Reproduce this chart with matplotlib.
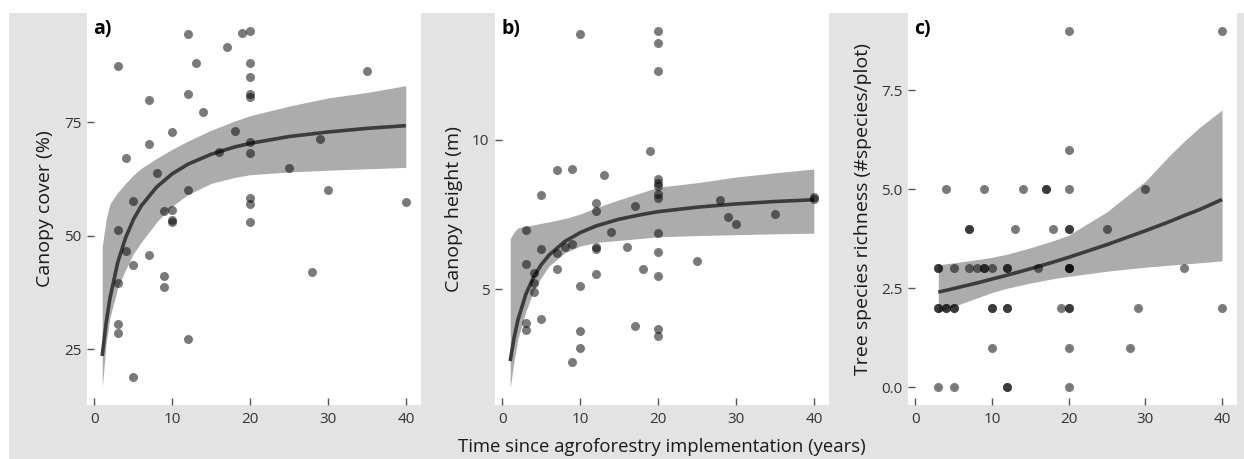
import matplotlib
matplotlib.use("Agg")
import matplotlib.pyplot as plt
from matplotlib.patches import Rectangle

plt.rcParams['font.family'] = ['Open Sans', 'DejaVu Sans']

# a) canopy cover (%)
cover_x = [3, 12, 19, 20, 17, 13, 20, 20, 35, 7, 12, 20, 20, 14, 10, 18, 7, 20, 29, 4,
           16, 20, 25, 8, 12, 30, 5, 20, 20, 40, 9, 10, 10, 10, 20, 3, 4, 7, 5, 9,
           28, 9, 3, 3, 3, 12, 5]
cover_y = [87.4, 94.4, 94.6, 95.0, 91.6, 88.1, 87.9, 84.9, 86.3, 79.8, 81.2, 81.2, 80.4, 77.1, 72.9,
           73.0, 70.2, 70.5, 71.3, 67.0, 68.5, 68.1, 64.9, 63.8, 60.0, 60.0, 57.7, 58.3, 56.9, 57.5,
           55.4, 55.7, 53.4, 52.9, 52.9, 51.2, 46.6, 45.7, 43.6, 41.1, 41.9, 38.6, 39.5, 30.6, 28.6,
           27.3, 18.9]
cover_fit_x = [1, 1.5, 2, 3, 4, 5, 6, 8, 10, 12, 15, 18, 20, 25, 30, 35, 40]
cover_fit = [23.5, 30.7, 36.2, 44.1, 49.5, 53.5, 56.5, 60.7, 63.6, 65.7, 67.9, 69.5, 70.3, 71.8, 72.8, 73.6, 74.2]
cover_lo = [16.5, 26.0, 32.0, 38.5, 42.5, 46.0, 48.5, 53.0, 56.5, 59.0, 61.5, 62.8, 63.4, 64.0, 64.4, 64.7, 65.0]
cover_hi = [47.5, 53.5, 57.0, 59.5, 61.5, 63.3, 64.8, 67.0, 69.0, 70.8, 73.2, 75.2, 76.4, 78.5, 80.3, 81.5, 83.0]

# b) canopy height (m)
height_x = [10, 20, 20, 20, 19, 7, 9, 13, 20, 20, 20, 20, 20, 5, 12, 12, 17, 28, 40, 40,
            29, 30, 35, 3, 14, 20, 5, 7, 8, 9, 12, 12, 16, 20, 25, 3, 7, 18, 4, 12,
            20, 4, 4, 10, 5, 3, 3, 17, 20, 20, 10, 10, 9]
height_y = [13.55, 13.65, 13.24, 12.32, 9.64, 9.0, 9.02, 8.83, 8.7, 8.57, 8.45, 8.2, 8.05, 8.16, 7.9,
            7.63, 7.8, 7.99, 8.1, 8.03, 7.41, 7.19, 7.52, 6.99, 6.93, 6.88, 6.34, 6.23, 6.41, 6.52,
            6.41, 6.34, 6.43, 6.24, 5.95, 5.84, 5.67, 5.67, 5.54, 5.52, 5.45, 5.22, 4.91, 5.12, 4.0,
            3.88, 3.64, 3.76, 3.69, 3.44, 3.6, 3.05, 2.58]
height_fit_x = [1, 1.5, 2, 3, 4, 5, 6, 8, 10, 12, 15, 18, 20, 25, 30, 35, 40]
height_fit = [2.6, 3.38, 3.98, 4.83, 5.41, 5.83, 6.15, 6.6, 6.9, 7.12, 7.35, 7.51, 7.6, 7.75, 7.86, 7.94, 8.0]
height_lo = [1.7, 2.6, 3.35, 4.25, 4.95, 5.4, 5.78, 6.22, 6.45, 6.57, 6.64, 6.71, 6.76, 6.8, 6.83, 6.86, 6.88]
height_hi = [6.7, 6.92, 7.06, 7.11, 7.16, 7.21, 7.26, 7.37, 7.52, 7.73, 8.0, 8.25, 8.42, 8.57, 8.76, 8.9, 9.03]

# c) tree species richness
rich_x = [20, 40, 20,
          4, 9, 14, 17, 17, 20, 30,
          7, 7, 13, 18, 20, 20, 25,
          3, 3, 5, 7, 8, 9, 9, 10, 12, 12, 16, 20, 20, 20, 35,
          3, 3, 4, 4, 5, 5, 10, 10, 12, 12, 19, 20, 20, 29, 40,
          10, 20, 28,
          3, 5, 12, 12, 20]
rich_y = [9, 9, 6,
          5, 5, 5, 5, 5, 5, 5,
          4, 4, 4, 4, 4, 4, 4,
          3, 3, 3, 3, 3, 3, 3, 3, 3, 3, 3, 3, 3, 3, 3,
          2, 2, 2, 2, 2, 2, 2, 2, 2, 2, 2, 2, 2, 2, 2,
          1, 1, 1,
          0, 0, 0, 0, 0]
rich_fit_x = [3, 5, 8, 10, 12, 15, 18, 20, 25, 30, 33, 35, 37, 40]
rich_fit = [2.40, 2.49, 2.63, 2.73, 2.83, 2.99, 3.16, 3.28, 3.60, 3.95, 4.17, 4.33, 4.48, 4.74]
rich_lo = [1.88, 2.04, 2.25, 2.39, 2.50, 2.63, 2.74, 2.80, 2.93, 3.03, 3.08, 3.11, 3.14, 3.19]
rich_hi = [3.09, 3.14, 3.22, 3.28, 3.36, 3.52, 3.70, 3.84, 4.43, 5.20, 5.82, 6.20, 6.55, 7.00]

W, H = 1244, 459
fig = plt.figure(figsize=(W / 100, H / 100), dpi=100, facecolor='white')
fig.patches.append(Rectangle((9 / W, 0), 1 - 9 / W, 1 - 13 / H, transform=fig.transFigure,
                             facecolor='#e3e3e3', edgecolor='none', zorder=-10))


def panel(left, width, px, py, fx, fy, lo, hi, ylim, yticks, yticklabels, ylabel, tag, label_x):
    ax = fig.add_axes([left / W, 54 / H, width / W, 392 / H])
    ax.set_facecolor('white')
    ax.fill_between(fx, lo, hi, color='#acacac', lw=0, zorder=1)
    ax.plot(fx, fy, color='#3c3c3c', lw=2.6, zorder=2, solid_capstyle='butt')
    ax.scatter(px, py, s=42, color='black', alpha=0.52, lw=0, zorder=3)
    ax.set_xlim(-0.95, 41.95)
    ax.set_ylim(*ylim)
    ax.set_xticks([0, 10, 20, 30, 40])
    ax.set_yticks(yticks)
    ax.set_yticklabels(yticklabels)
    for s in ax.spines.values():
        s.set_visible(False)
    ax.tick_params(direction='in', length=5, width=1, color='#555555',
                   labelcolor='#333333', labelsize=11, pad=4)
    ax.tick_params(axis='x', pad=5)
    ax.set_ylabel(ylabel, fontsize=14, color='#1a1a1a')
    ax.yaxis.set_label_coords(label_x, 0.5)
    ax.text(0.018, 0.985, tag, transform=ax.transAxes, fontsize=14, fontweight='bold',
            va='top', ha='left')
    return ax


panel(87, 334, cover_x, cover_y, cover_fit_x, cover_fit, cover_lo, cover_hi,
      (12.7, 99.0), [25, 50, 75], ['25', '50', '75'], 'Canopy cover (%)', 'a)', -0.10)
panel(495, 334, height_x, height_y, height_fit_x, height_fit, height_lo, height_hi,
      (1.13, 14.25), [5, 10], ['5', '10'], 'Canopy height (m)', 'b)', -0.095)
panel(908, 329, rich_x, rich_y, rich_fit_x, rich_fit, rich_lo, rich_hi,
      (-0.45, 9.45), [0, 2.5, 5, 7.5], ['0.0', '2.5', '5.0', '7.5'],
      'Tree species richness (#species/plot)', 'c)', -0.11)

fig.text(662 / W, 1 - 447 / H, 'Time since agroforestry implementation (years)',
         ha='center', va='center', fontsize=13.3, color='#1a1a1a')

fig.savefig('out.png', dpi=100, facecolor=fig.get_facecolor())
